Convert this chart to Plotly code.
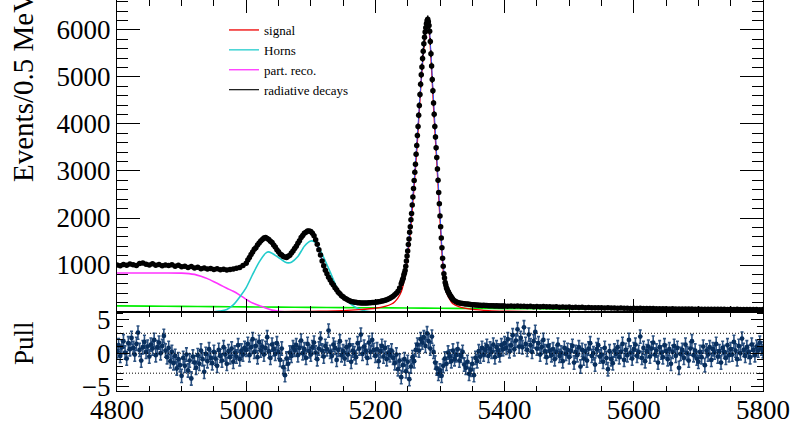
import numpy as np
import plotly.graph_objects as go

# ---------------- data ----------------
# data counts per 0.5 MeV, sampled in segments
seg_a_start, seg_a_step = 4800.0, 5.0
counts_a = [1000, 985, 1012, 995, 1022, 1003, 990, 1030, 1042, 1015,
            1000, 1027, 993, 1010, 982, 1001, 988, 1007, 975, 996,
            962, 976, 948, 967, 934, 951, 921, 936, 914, 926,
            905, 921, 899, 911, 894, 906, 916, 931, 946, 990]

seg_b_start, seg_b_step = 5000.0, 2.5
counts_b = [1038, 1104, 1158, 1226, 1276, 1335, 1368, 1424, 1466, 1513,
            1542, 1574, 1583, 1562, 1544, 1506, 1478, 1427, 1384, 1326,
            1283, 1236, 1213, 1182, 1172, 1162, 1184, 1206, 1254, 1297,
            1352, 1397, 1463, 1516, 1584, 1626, 1674, 1697, 1723, 1721,
            1713, 1676, 1624, 1536, 1444, 1326, 1214, 1086, 984, 887,
            813, 737, 683, 617, 573, 517, 472, 422, 388, 347,
            322, 293, 277, 253, 242, 226, 220, 208, 206, 198,
            197, 192, 194, 189, 191, 190, 196, 195, 202, 203,
            210, 211, 220, 223, 234, 238, 252, 260, 278, 290,
            314, 334, 368, 398, 442, 508]

seg_c_start, seg_c_step = 5240.0, 1.0
counts_c = [600, 640, 685, 720, 785, 830, 885, 975, 1085, 1190,
            1300, 1435, 1555, 1695, 1815, 1965, 2095, 2275, 2445, 2625,
            2800, 2975, 3145, 3355, 3545, 3755, 3945, 4185, 4395, 4625,
            4845, 5045, 5215, 5395, 5545, 5705, 5845, 5955, 6045, 6135,
            6195, 6230, 6175, 6095, 5975, 5755, 5495, 5235, 4945, 4705,
            4445, 4205, 3945, 3725, 3495, 3285, 3045, 2805, 2545, 2305,
            2045, 1815, 1575, 1365, 1145, 975, 815, 725, 625, 575,
            515, 485, 445, 425, 392, 372, 342, 328, 302, 288,
            268]

seg_d_start, seg_d_step = 5322.5, 2.5
counts_d = [240, 216, 201, 191, 186, 179, 177, 171, 169, 163,
            161, 155, 153, 149, 148, 144, 144, 140, 141, 137,
            138, 134, 135, 132, 133, 130, 131, 128, 129, 126,
            128, 125]

seg_e_start, seg_e_step = 5405.0, 5.0
counts_e = [124, 129, 121, 126, 120, 124, 117, 123, 114, 119,
            113, 115, 110, 112, 106, 111, 103, 106, 101, 104,
            98, 100, 96, 99, 92, 95, 91, 92, 88, 90,
            85, 88, 84, 85, 81, 83, 78, 82, 77, 79,
            75, 78, 73, 75, 72, 73, 70, 71, 68, 70,
            66, 69, 65, 66, 64, 65, 62, 63, 61, 62,
            60, 61, 58, 60, 57, 59, 56, 58, 55, 57,
            54, 56, 53, 55, 52, 54, 51, 53, 50, 52]

# fit components (events / 0.5 MeV)
horns_mass = [4940, 4950, 4960, 4970, 4980, 4990, 5000, 5010, 5020, 5030,
              5034, 5040, 5050, 5060, 5065, 5070, 5080, 5090, 5100, 5105,
              5110, 5120, 5130, 5140, 5150, 5160, 5170, 5180, 5190, 5200]
horns_vals = [0, 5, 20, 55, 150, 320, 520, 800, 1060, 1250,
              1280, 1250, 1160, 1065, 1045, 1060, 1180, 1400, 1510, 1500,
              1430, 1160, 850, 530, 320, 190, 95, 35, 8, 0]

partreco_mass = [4800, 4850, 4900, 4920, 4930, 4940, 4950, 4960, 4970, 4980,
                 4990, 5000, 5010, 5020, 5030, 5040, 5050, 5060, 5080, 5800]
partreco_vals = [830, 830, 828, 800, 760, 710, 645, 575, 505, 440,
                 360, 270, 190, 140, 85, 40, 15, 3, 0, 0]

comb_mass = [4800, 4850, 4900, 4950, 5000, 5050, 5100, 5150, 5200, 5250, 5300,
             5350, 5400, 5450, 5500, 5550, 5600, 5650, 5700, 5750, 5800]
comb_vals = [130, 125, 120, 114, 109, 104, 99, 94, 89, 85, 80,
             76, 72, 68, 65, 61, 58, 55, 52, 49, 47]

signal_mass = [4800, 4900, 5000, 5050, 5100, 5125, 5150, 5175, 5200, 5215,
               5225, 5230, 5235, 5240, 5245, 5250, 5255, 5260, 5265, 5270,
               5275, 5280, 5282, 5285, 5290, 5295, 5300, 5305, 5310, 5315,
               5320, 5330, 5340, 5350, 5375, 5400, 5450, 5500, 5600, 5800]
signal_vals = [3, 4, 6, 9, 14, 20, 30, 50, 80, 120,
               170, 220, 300, 430, 700, 1180, 1850, 2680, 3620, 4730,
               5600, 6090, 6080, 5650, 4350, 3180, 1960, 880, 420, 270,
               175, 110, 75, 55, 30, 18, 8, 4, 2, 1]

raddec_mass = [4800, 4900, 5000, 5100, 5200, 5250, 5300, 5350, 5400, 5500, 5600, 5800]
raddec_vals = [1, 2, 3, 4, 5, 6, 6, 5, 4, 2, 1, 1]

# pull values, one every 2.5 MeV from 4800 to 5800
pull_start, pull_step = 4800.0, 2.5
pulls = [
    0.3, 1.2, -0.4, 0.9, 1.8, 0.1, -0.8, 1.5, 0.6, 2.3,
    0.8, -0.2, 1.4, 3.1, 0.5, -1.1, 0.9, 1.7, 0.2, 1.0,
    -0.5, 1.3, 0.7, 2.0, -0.3, 0.9, 1.6, 0.0, 1.1, 2.6,
    0.4, -0.6, 0.8, -1.2, 0.2, -1.5, -0.4, -2.3, -0.9, -1.8,
    -3.4, -0.7, -1.9, -0.2, -2.6, -1.1, -3.8, -0.5, -1.4, -2.2,
    -0.3, -1.6, 0.4, -0.9, -2.8, -0.1, -1.2, 0.6, -0.7, -1.5,
    0.2, -0.8, -1.9, 0.5, -0.4, -1.1, 0.9, -0.2, -1.6, 0.3,
    -0.6, 0.7, -1.3, 0.1, -0.5, 1.2, -0.9, 0.4, -0.2, 0.8,
    0.5, 1.4, -0.3, 0.9, 2.1, 0.2, 1.1, -0.6, 1.7, 0.4,
    1.0, -0.2, 0.8, 2.4, 0.3, -0.7, 1.3, 0.6, -0.1, 1.5,
    0.2, -1.0, 0.7, -2.1, -3.3, -0.8, -1.6, 0.1, -0.4, 0.9,
    0.5, 1.2, -0.3, 0.8, 1.9, 0.0, 0.6, -0.7, 1.4, 0.3,
    -0.2, 0.9, 1.6, 0.1, -0.9, 0.7, 2.2, 0.4, -0.5, 1.1,
    0.6, 3.4, 0.2, -0.4, 1.3, 0.8, -1.0, 0.5, 1.8, -0.3,
    0.3, -0.8, 0.9, -0.2, 1.2, -1.3, 0.4, 0.0, -0.6, 1.5,
    0.7, 2.8, -0.1, 1.0, 0.4, -0.7, 1.6, 0.2, 2.0, 0.5,
    -0.4, 0.6, -1.2, 0.3, 1.1, -0.5, 0.8, -0.9, 0.1, -0.3,
    0.4, -0.7, -1.5, -0.2, -2.4, -1.1, -3.6, -1.8, -0.9, -2.7,
    -1.3, -3.9, -2.0, -0.6, -1.2, 0.5, 1.3, 0.4, 2.1, 1.6,
    2.4, 1.1, 3.0, 1.8, 0.7, 2.5, 0.2, -1.4, -2.3, -3.1,
    -2.6, -3.4, -1.9, -0.8, -1.6, 0.1, -0.5, -1.2, 0.4, -0.9,
    -0.3, 0.6, -1.1, -0.4, 0.2, -1.7, -2.2, -1.3, -3.1, -2.5,
    -1.6, -3.3, -0.7, -1.2, 0.3, -0.5, 0.8, -0.2, 0.5, 1.1,
    -0.4, 0.7, 0.2, 1.3, -0.6, 0.9, 0.4, -0.3, 1.2, 0.6,
    1.5, 0.8, 2.1, 0.3, 1.2, 2.7, 0.6, 1.9, 3.6, 1.0,
    2.3, 0.9, 3.9, 1.4, 0.5, 2.8, 1.2, 0.2, 1.8, 3.2,
    0.7, 1.5, -0.2, 0.9, 2.0, 0.3, -0.6, 1.1, 0.4, -0.3,
    0.6, -0.9, 0.2, 1.3, -0.4, 0.1, -1.2, 0.8, -0.1, 0.5,
    -0.6, 0.4, 1.1, -1.4, 0.2, -0.3, 0.9, -2.0, 0.5, -0.8,
    0.3, -1.1, 0.7, 1.5, -0.4, 0.0, -1.7, 0.6, 1.2, -0.5,
    -0.2, -1.3, 0.8, -0.7, -2.4, 0.3, -0.9, -1.5, 0.4, -0.1,
    0.9, -0.6, 0.2, 1.4, -1.0, 0.5, -0.3, 2.0, 0.1, -0.8,
    0.6, 1.3, -0.4, 0.2, 2.5, -0.7, 0.8, -1.2, 0.3, 1.0,
    -0.5, 0.7, 1.6, -0.2, 0.4, -1.4, 0.9, 0.1, -0.6, 1.2,
    0.3, -0.9, 0.6, -1.6, 0.2, 1.1, -0.4, 0.8, -2.2, -0.1,
    0.5, -0.7, 1.3, 0.0, -1.1, 0.7, 1.8, -0.3, 0.4, -0.8,
    -1.3, 0.2, -0.6, 1.0, -1.8, 0.4, -0.2, 0.9, -1.0, 0.6,
    0.1, 1.4, -0.5, 0.3, -1.4, 0.8, 0.2, -0.7, 1.2, -0.3,
    0.6, -0.2, 1.7, 0.4, -0.9, 1.1, 0.0, 2.2, 0.5, -0.4,
    0.9, 0.2, -0.6, 1.3, 0.5, -0.3, 1.0, 0.4, 1.6, 0.7,
    0.3]
pull_err = 1.0
pull_refs = [-3, 0, 3]

x_range = [4800, 5800]
y_range = [0, 6638]
pull_range = [-5.68, 6.2]
y_ticks = [1000, 2000, 3000, 4000, 5000, 6000]
pull_ticks = [-5, 0, 5]
x_ticks = [4800, 5000, 5200, 5400, 5600, 5800]

legend_names = ["signal", "Horns", "part. reco.", "radiative decays"]

# ---------------- build ----------------
def seg(start, step, vals):
    return start + step * np.arange(len(vals))

mass = np.concatenate([seg(seg_a_start, seg_a_step, counts_a),
                       seg(seg_b_start, seg_b_step, counts_b),
                       seg(seg_c_start, seg_c_step, counts_c),
                       seg(seg_d_start, seg_d_step, counts_d),
                       seg(seg_e_start, seg_e_step, counts_e)])
counts = np.array(counts_a + counts_b + counts_c + counts_d + counts_e, dtype=float)
count_err = np.sqrt(counts)
pull_mass = seg(pull_start, pull_step, pulls)

FONT = "Liberation Serif"
fig = go.Figure()

def curve(xv, yv, color, name, width=1.6):
    fig.add_trace(go.Scatter(x=xv, y=yv, mode="lines", name=name, showlegend=False,
                             line=dict(color=color, width=width, shape="spline", smoothing=0.6),
                             xaxis="x", yaxis="y", hoverinfo="skip"))

curve(comb_mass, comb_vals, "#00ee00", "comb")
curve(raddec_mass, raddec_vals, "#000000", legend_names[3])
curve(partreco_mass, partreco_vals, "#ff33ff", legend_names[2])
curve(horns_mass, horns_vals, "#22cccc", legend_names[1])
curve(signal_mass, signal_vals, "#ee0000", legend_names[0], width=1.3)
fig.add_trace(go.Scatter(x=mass, y=counts, mode="lines", showlegend=False,
                         line=dict(color="#3355ff", width=1), xaxis="x", yaxis="y", hoverinfo="skip"))

# data
fig.add_trace(go.Scatter(x=mass, y=counts, mode="markers", showlegend=False,
                         marker=dict(color="black", size=5.5),
                         error_y=dict(type="data", array=count_err, color="black", thickness=1.5, width=0),
                         xaxis="x", yaxis="y", hoverinfo="skip"))

# legend entries (in the legend order of the reference)
for nm, col in zip(legend_names, ["#ee0000", "#22cccc", "#ff33ff", "#222222"]):
    fig.add_trace(go.Scatter(x=[None], y=[None], mode="lines", name=nm,
                             line=dict(color=col, width=1.3), xaxis="x", yaxis="y"))

# pulls
fig.add_trace(go.Scatter(x=pull_mass, y=pulls, mode="markers", showlegend=False,
                         marker=dict(color="#082f5e", size=4.8),
                         error_y=dict(type="constant", value=pull_err, color="rgba(20,62,115,0.9)",
                                      thickness=1.6, width=1.5),
                         xaxis="x2", yaxis="y2", hoverinfo="skip"))
for v in pull_refs:
    fig.add_hline(y=v, line=dict(color="black", width=1, dash="1px,2px"), xref="x2", yref="y2")

tickfont = dict(family=FONT, size=27, color="black")
split = 79 / 391
common_ax = dict(showline=True, linecolor="black", linewidth=1, mirror="ticks", automargin=False,
                 showgrid=False, zeroline=False, ticks="inside", tickcolor="black", tickwidth=1)

fig.update_layout(
    template="none",
    width=794, height=429,
    margin=dict(l=117, r=31, t=0, b=38, pad=0, autoexpand=False),
    paper_bgcolor="white", plot_bgcolor="white",
    font=dict(family=FONT, color="black"),
    xaxis=dict(domain=[0, 1], range=x_range, anchor="y", tickvals=x_ticks, showticklabels=False,
               ticklen=13, minor=dict(dtick=50, tick0=4800, ticklen=6, ticks="inside", tickcolor="black"),
               **common_ax),
    yaxis=dict(domain=[split, 1], range=y_range, anchor="x", tickvals=y_ticks, tickfont=tickfont,
               ticklen=23, minor=dict(dtick=200, tick0=0, ticklen=11, ticks="inside", tickcolor="black"),
               **common_ax),
    xaxis2=dict(domain=[0, 1], range=x_range, anchor="y2", tickvals=x_ticks, tickfont=tickfont,
                ticklen=10, ticklabelstandoff=-5,
                minor=dict(dtick=50, tick0=4800, ticklen=5, ticks="inside", tickcolor="black"),
                **common_ax),
    yaxis2=dict(domain=[0, split], range=pull_range, anchor="x2", tickvals=pull_ticks, tickfont=tickfont,
                ticklen=12, minor=dict(dtick=1, tick0=0, ticklen=6, ticks="inside", tickcolor="black"),
                **common_ax),
    legend=dict(x=(224 - 117) / 646, y=(391 - 15) / 391, xanchor="left", yanchor="top",
                bgcolor="rgba(0,0,0,0)", borderwidth=0, font=dict(family=FONT, size=13, color="black"),
                tracegroupgap=0),
    showlegend=True,
)

fig.add_annotation(text="Events/0.5 MeV", xref="paper", yref="paper",
                   x=(23 - 117) / 646, y=(391 - 87) / 391, textangle=-90,
                   xanchor="center", yanchor="middle", showarrow=False,
                   font=dict(family=FONT, size=29, color="black"))
fig.add_annotation(text="Pull", xref="paper", yref="paper",
                   x=(24 - 117) / 646, y=(391 - 343) / 391, textangle=-90,
                   xanchor="center", yanchor="middle", showarrow=False,
                   font=dict(family=FONT, size=27, color="black"))

fig.write_html("out.html")
